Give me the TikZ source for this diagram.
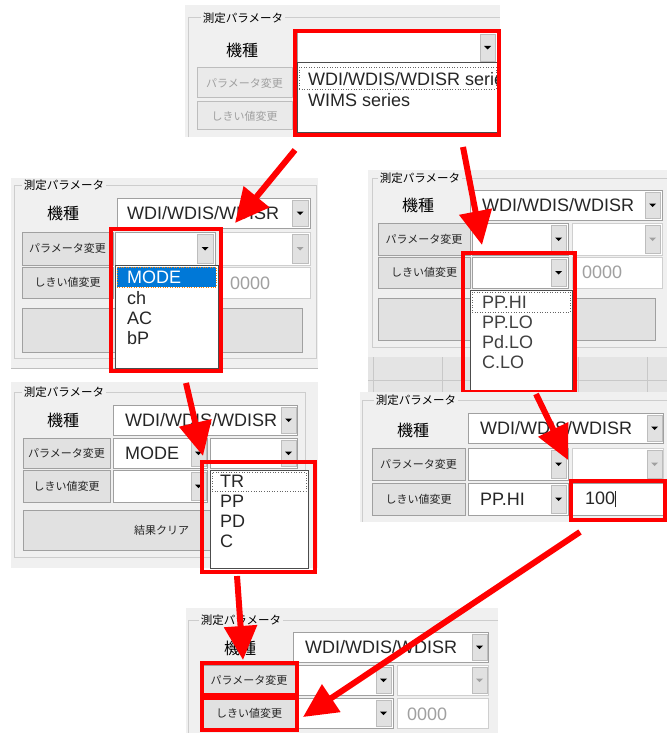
\documentclass[tikz,border=0pt]{standalone}
\usepackage{fontspec}
\setmainfont{Liberation Sans}
\newfontfamily\jp{Noto Sans CJK JP}
\usepackage{tikz}
\usetikzlibrary{arrows.meta,fit}

\definecolor{bgc}{RGB}{240,240,240}
\definecolor{grpc}{RGB}{205,205,205}
\definecolor{facec}{RGB}{225,225,225}
\definecolor{btnc}{RGB}{160,160,160}
\definecolor{boxc}{RGB}{160,160,160}
\definecolor{disc}{RGB}{160,160,160}
\definecolor{selc}{RGB}{0,120,215}
\definecolor{gridc}{RGB}{228,228,228}
\definecolor{gridlc}{RGB}{200,200,200}

\begin{document}
\begin{tikzpicture}[x=1pt,y=-1pt,
    grp/.style={draw=grpc, line width=1pt},
    ttl/.style={fill=bgc, inner sep=1.5pt, font=\jp\fontsize{11.5}{11.5}\selectfont},
    lbl/.style={inner sep=0, font=\jp\fontsize{16}{16}\selectfont},
    btxt/.style={inner sep=0, text=black!85, font=\jp\fontsize{11}{11}\selectfont},
    btn/.style={rectangle, draw=btnc, fill=facec, line width=1pt, inner sep=0, label={[btxt]center:#1}},
    btn/.default={},
    btnoff/.style={rectangle, draw=btnc!70, fill=facec!70, line width=1pt, inner sep=0, label={[btxt, text=disc]center:#1}},
    box/.style={rectangle, draw=boxc, fill=white, line width=1pt, inner sep=0},
    off/.style={draw=boxc!50},
    val/.style={inner sep=0, anchor=west, text=black!85, font=\fontsize{18}{18}\selectfont},
    ddb/.style={rectangle, fill=facec, draw=boxc!70, inner sep=0},
    lst/.style={rectangle, draw=black!70, fill=white, line width=1pt, inner sep=0},
    focus/.style={rectangle, draw=black!60, dotted, line width=0.6pt, inner sep=0},
    hot/.style={rectangle, draw=red, line width=4pt, inner sep=0},
    go/.style={draw=red, line width=6pt, -{Triangle[length=34pt,width=32pt]}},
    dd/.pic={\fill[pic actions] (-3.5,-1.5) -- (3.5,-1.5) -- (0,2) -- cycle;}]
    \useasboundingbox (0,0) rectangle (667,733);

    % top: model list open
    \fill[bgc] (185,5) rectangle (500,137);
    \draw[grp] (188,137) |- (500,18);
    \node[ttl] (a0) at (243,18) {測定パラメータ};
    \node[lbl] (a1) at (242,50) {機種};
    \node[box, fit={(297,32) (497,63)}] (a2) {};
    \node[ddb, fit={(480,34) (495,61)}] (a3) {};
    \pic at (a3) {dd};
    \node[btnoff=パラメータ変更, fit={(197,68) (292,98)}] (a4) {};
    \node[btnoff=しきい値変更, fit={(197,102) (292,130)}] (a5) {};
    \node[lst, fit={(297,63) (497,133)}] (a6) {};
    \node[focus, fit={(299,67) (496,89)}] (a7) {};
    \begin{scope}
        \clip (297,63) rectangle (496,133);
        \node[val] (a8) at (308,79) {WDI/WDIS/WDISR series};
    \end{scope}
    \node[val] (a9) at (308,100) {WIMS series};
    \node[hot, fit={(295,31) (499,135)}] (a10) {};

    % left: parameter list
    \fill[bgc] (11,178) rectangle (318,368);
    \draw[black!25] (11,368) -- (318,368);
    \draw[grp] (14,185) rectangle (316,358);
    \node[ttl] (b0) at (64,185) {測定パラメータ};
    \node[lbl] (b1) at (63,213) {機種};
    \node[box, fit={(117,198) (310,228)}] (b2) {};
    \node[val] (b3) at (127,213) {WDI/WDIS/WDISR};
    \node[ddb, fit={(292,200) (308,226)}] (b4) {};
    \pic at (b4) {dd};
    \node[btn=パラメータ変更, fit={(22,232) (113,265)}] (b5) {};
    \node[btn=しきい値変更, fit={(22,267) (113,298)}] (b6) {};
    \node[box, fit={(115,232) (215,265)}] (b7) {};
    \node[ddb, fit={(197,234) (213,263)}] (b8) {};
    \pic at (b8) {dd};
    \node[box, off, fit={(220,232) (310,265)}] (b9) {};
    \node[ddb, fit={(292,234) (308,263)}] (b10) {};
    \pic[color=disc] at (b10) {dd};
    \node[box, off, fit={(220,267) (310,298)}] (b11) {};
    \node[val, text=disc] (b12) at (230,283) {0000};
    \node[btn, fit={(22,308) (302,352)}] (b13) {};
    \node[lst, fit={(115,265) (218,368)}] (b14) {};
    \node[rectangle, fill=selc, draw=orange, dotted, inner sep=0, fit={(117,267) (216,287)}] (b15) {};
    \node[val, text=white] (b16) at (127,277) {MODE};
    \foreach \t [count=\i] in {ch,AC,bP}
        \node[val] (b-\i) at (127,{278+20*\i}) {\t};
    \node[hot, fit={(111,229) (221,371)}] (b17) {};

    % right: threshold list
    \fill[bgc] (368,170) rectangle (667,357);
    \fill[gridc] (368,357) rectangle (667,393);
    \foreach \x in {373,442,578,647}
        \draw[gridlc] (\x,357) -- (\x,393);
    \draw[gridlc] (368,380) -- (667,380);
    \draw[grp] (667,178) -| (372,347) -- (667,347);
    \node[ttl] (c0) at (420,178) {測定パラメータ};
    \node[lbl] (c1) at (418,205) {機種};
    \node[box, fit={(470,190) (662,220)}] (c2) {};
    \node[val] (c3) at (482,205) {WDI/WDIS/WDISR};
    \node[ddb, fit={(645,192) (660,218)}] (c4) {};
    \pic at (c4) {dd};
    \node[btn=パラメータ変更, fit={(378,223) (470,255)}] (c5) {};
    \node[btn=しきい値変更, fit={(378,257) (470,288)}] (c6) {};
    \node[box, fit={(472,223) (568,255)}] (c7) {};
    \node[ddb, fit={(551,225) (566,253)}] (c8) {};
    \pic at (c8) {dd};
    \node[box, off, fit={(572,223) (662,255)}] (c9) {};
    \node[ddb, fit={(645,225) (660,253)}] (c10) {};
    \pic[color=disc] at (c10) {dd};
    \node[box, fit={(472,257) (568,288)}] (c11) {};
    \node[ddb, fit={(551,259) (566,286)}] (c12) {};
    \pic at (c12) {dd};
    \node[box, off, fit={(572,257) (662,288)}] (c13) {};
    \node[val, text=disc] (c14) at (582,272) {0000};
    \node[btn, fit={(378,298) (655,340)}] (c15) {};
    \node[lst, fit={(470,290) (572,390)}] (c16) {};
    \node[focus, fit={(472,292) (570,312)}] (c17) {};
    \foreach \t [count=\i] in {PP.HI,PP.LO,Pd.LO,C.LO}
        \node[val, text=black!75] (c-\i) at (482,{282+20*\i}) {\t};
    \node[hot, fit={(463,253) (575,392)}] (c18) {};

    % left: mode list
    \fill[bgc] (11,382) rectangle (318,568);
    \draw[grp] (14,392) rectangle (305,557);
    \node[ttl] (d0) at (64,392) {測定パラメータ};
    \node[lbl] (d1) at (63,420) {機種};
    \node[box, fit={(113,405) (297,435)}] (d2) {};
    \node[val] (d3) at (125,420) {WDI/WDIS/WDISR};
    \node[ddb, fit={(281,407) (296,433)}] (d4) {};
    \pic at (d4) {dd};
    \node[btn=パラメータ変更, fit={(23,438) (110,468)}] (d5) {};
    \node[btn=しきい値変更, fit={(23,470) (110,502)}] (d6) {};
    \node[box, fit={(113,438) (207,468)}] (d7) {};
    \node[val] (d8) at (125,453) {MODE};
    \node[ddb, fit={(191,440) (206,466)}] (d9) {};
    \pic at (d9) {dd};
    \node[box, fit={(210,438) (297,468)}] (d10) {};
    \node[ddb, fit={(281,440) (296,466)}] (d11) {};
    \pic at (d11) {dd};
    \node[box, fit={(113,470) (207,502)}] (d12) {};
    \node[ddb, fit={(191,472) (206,500)}] (d13) {};
    \pic at (d13) {dd};
    \node[btn=結果クリア, fit={(23,510) (300,550)}] (d14) {};
    \node[lst, fit={(210,470) (308,568)}] (d15) {};
    \node[focus, fit={(212,472) (306,491)}] (d16) {};
    \foreach \t [count=\i] in {TR,PP,PD,C}
        \node[val] (d-\i) at (220,{461+20*\i}) {\t};
    \node[hot, fit={(202,462) (315,572)}] (d17) {};

    % right: value typed
    \fill[bgc] (360,392) rectangle (667,522);
    \draw[grp] (667,400) -| (362,522);
    \node[ttl] (e0) at (416,400) {測定パラメータ};
    \node[lbl] (e1) at (413,430) {機種};
    \node[box, fit={(468,413) (663,443)}] (e2) {};
    \node[val] (e3) at (480,428) {WDI/WDIS/WDISR};
    \node[ddb, fit={(647,415) (662,441)}] (e4) {};
    \pic at (e4) {dd};
    \node[btn=パラメータ変更, fit={(372,448) (465,480)}] (e5) {};
    \node[btn=しきい値変更, fit={(372,483) (465,515)}] (e6) {};
    \node[box, fit={(468,448) (568,480)}] (e7) {};
    \node[ddb, fit={(551,450) (566,478)}] (e8) {};
    \pic at (e8) {dd};
    \node[box, off, fit={(572,448) (663,480)}] (e9) {};
    \node[ddb, fit={(647,450) (662,478)}] (e10) {};
    \pic[color=disc] at (e10) {dd};
    \node[box, fit={(468,483) (568,515)}] (e11) {};
    \node[val] (e12) at (480,499) {PP.HI};
    \node[ddb, fit={(551,485) (566,513)}] (e13) {};
    \pic at (e13) {dd};
    \node[box, fit={(572,483) (663,515)}] (e14) {};
    \node[val] (e15) at (585,499) {100\rule[-3pt]{0.8pt}{16pt}};
    \node[hot, fit={(571,481) (665,520)}] (e16) {};

    % bottom: buttons to press
    \fill[bgc] (186,608) rectangle (498,733);
    \draw[grp] (498,620) -| (188,733);
    \node[ttl] (f0) at (241,620) {測定パラメータ};
    \node[lbl] (f1) at (240,648) {機種};
    \node[box, fit={(293,632) (488,662)}] (f2) {};
    \node[val] (f3) at (305,647) {WDI/WDIS/WDISR};
    \node[ddb, fit={(472,634) (487,660)}] (f4) {};
    \pic at (f4) {dd};
    \node[btn=パラメータ変更, fit={(203,665) (295,695)}] (f5) {};
    \node[btn=しきい値変更, fit={(203,698) (295,728)}] (f6) {};
    \node[box, fit={(297,665) (393,695)}] (f7) {};
    \node[ddb, fit={(376,667) (391,693)}] (f8) {};
    \pic at (f8) {dd};
    \node[box, off, fit={(397,665) (488,695)}] (f9) {};
    \node[ddb, fit={(472,667) (487,693)}] (f10) {};
    \pic[color=disc] at (f10) {dd};
    \node[box, fit={(297,698) (393,728)}] (f11) {};
    \node[ddb, fit={(376,700) (391,726)}] (f12) {};
    \pic at (f12) {dd};
    \node[box, off, fit={(397,698) (488,728)}] (f13) {};
    \node[val, text=disc] (f14) at (407,714) {0000};
    \node[hot, fit={(202,663) (297,695)}] (f15) {};
    \node[hot, fit={(202,698) (297,730)}] (f16) {};

    % arrows
    \coordinate (s1) at (295,150);
    \coordinate (t1) at (235,223);
    \coordinate (s2) at (463,147);
    \coordinate (t2) at (482,245);
    \coordinate (s3) at (186,383);
    \coordinate (t3) at (203,456);
    \coordinate (s4) at (536,394);
    \coordinate (t4) at (568,460);
    \coordinate (s5) at (237,576);
    \coordinate (t5) at (243,660);
    \coordinate (s6) at (580,532);
    \coordinate (t6) at (303,717);
    \draw[go] (s1) -- (t1);
    \draw[go] (s2) -- (t2);
    \draw[go] (s3) -- (t3);
    \draw[go] (s4) -- (t4);
    \draw[go] (s5) -- (t5);
    \draw[go] (s6) -- (t6);
\end{tikzpicture}
\end{document}
